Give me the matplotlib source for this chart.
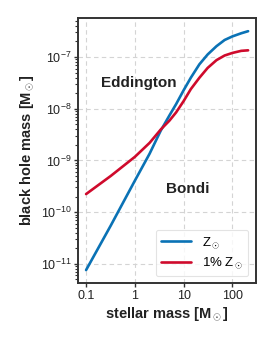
import matplotlib
matplotlib.use("Agg")
import matplotlib.pyplot as plt
import matplotlib.ticker as mticker
import numpy as np

plt.rcParams['font.family'] = ['Liberation Sans', 'DejaVu Sans']
plt.rcParams['mathtext.fontset'] = 'custom'
plt.rcParams['mathtext.rm'] = 'Liberation Sans'
plt.rcParams['mathtext.it'] = 'Liberation Sans:italic'
plt.rcParams['mathtext.bf'] = 'Liberation Sans:bold'

# data (stellar mass in Msun, log10 of BH mass in Msun)
mass = [0.1, 0.32, 1, 2, 3.4, 5.1, 7, 10, 14, 21, 31, 47, 69, 100, 151, 209]
logbh_solar = [-11.12, -10.26, -9.39, -8.87, -8.42, -8.13, -7.91, -7.64,
               -7.40, -7.14, -6.95, -6.79, -6.67, -6.60, -6.54, -6.50]
logbh_low = [-9.65, -9.30, -8.93, -8.66, -8.40, -8.23, -8.07, -7.85,
             -7.62, -7.40, -7.21, -7.06, -6.97, -6.92, -6.88, -6.87]

xticks = [0.1, 1, 10, 100]
xticklabels = ['0.1', '1', '10', '100']
yticks = [1e-11, 1e-10, 1e-9, 1e-8, 1e-7]

blue = '#0a72b5'
red = '#cf0a2c'

fig = plt.figure(figsize=(2.74, 3.43), dpi=100)
ax = fig.add_axes([0.285, 0.175, 0.649, 0.7725])

ax.plot(mass, 10 ** np.array(logbh_solar), color=blue, lw=1.9,
        label=r'Z$_\odot$', solid_capstyle='round', solid_joinstyle='round')
ax.plot(mass, 10 ** np.array(logbh_low), color=red, lw=1.9,
        label=r'1% Z$_\odot$', solid_capstyle='round', solid_joinstyle='round')

ax.set_xscale('log')
ax.set_yscale('log')
ax.set_xlim(0.0686, 302)
ax.set_ylim(4.27e-12, 5.69e-7)

ax.set_xticks(xticks)
ax.set_xticklabels(xticklabels)
ax.xaxis.set_minor_locator(mticker.NullLocator())
ax.set_yticks(yticks)
ax.yaxis.set_minor_locator(mticker.LogLocator(base=10, subs=np.arange(2, 10), numticks=20))
ax.yaxis.set_minor_formatter(mticker.NullFormatter())

ax.tick_params(axis='both', which='major', labelsize=9, direction='out',
               length=3, width=1.0, color='#333333', pad=2, labelcolor='#222222')
ax.tick_params(axis='y', which='minor', direction='out', length=2, width=0.8,
               color='#333333')

for s in ax.spines.values():
    s.set_color('#333333')
    s.set_linewidth(1.4)

ax.grid(True, which='major', ls=(0, (4, 3)), color='#d4d4d4', lw=0.8)
ax.set_axisbelow(True)

ax.set_xlabel(r'stellar mass [M$_\odot$]', fontsize=10.5, fontweight='bold',
              labelpad=3, color='#222222')
ax.set_ylabel(r'black hole mass [M$_\odot$]', fontsize=10.5, fontweight='bold',
              labelpad=3, color='#222222')

ax.text(0.34, 0.755, 'Eddington', transform=ax.transAxes, fontsize=11,
        fontweight='bold', ha='center', va='center', color='#222222')
ax.text(0.618, 0.355, 'Bondi', transform=ax.transAxes, fontsize=11,
        fontweight='bold', ha='center', va='center', color='#222222')

leg = ax.legend(loc='lower right', fontsize=9.5, frameon=True,
                handlelength=2.3, borderpad=0.4, labelspacing=0.35,
                handletextpad=0.8, bbox_to_anchor=(0.995, 0.0))
leg.get_frame().set_edgecolor('#dddddd')
leg.get_frame().set_linewidth(0.8)

fig.savefig('out.png', dpi=100)
